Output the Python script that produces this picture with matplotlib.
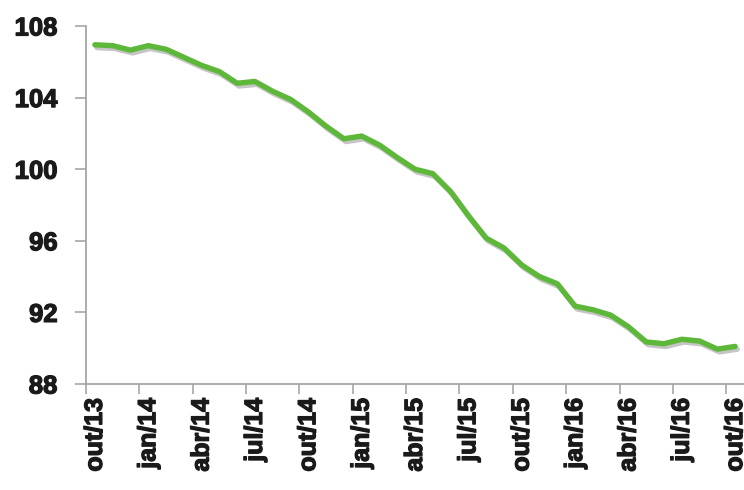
import numpy as np
import matplotlib
matplotlib.use('Agg')
import matplotlib.pyplot as plt
import matplotlib.patheffects as pe

plt.rcParams.update({
    'font.family': ['Liberation Sans', 'DejaVu Sans'],
    'font.weight': 'bold',
})

# ===================== DATA =====================
months = ['out/13', 'nov/13', 'dez/13', 'jan/14', 'fev/14', 'mar/14', 'abr/14',
          'mai/14', 'jun/14', 'jul/14', 'ago/14', 'set/14', 'out/14', 'nov/14',
          'dez/14', 'jan/15', 'fev/15', 'mar/15', 'abr/15', 'mai/15', 'jun/15',
          'jul/15', 'ago/15', 'set/15', 'out/15', 'nov/15', 'dez/15', 'jan/16',
          'fev/16', 'mar/16', 'abr/16', 'mai/16', 'jun/16', 'jul/16', 'ago/16',
          'set/16', 'out/16']
values = [106.95, 106.9, 106.65, 106.9, 106.7, 106.25, 105.8,
          105.45, 104.8, 104.9, 104.35, 103.9, 103.2, 102.4,
          101.7, 101.85, 101.35, 100.65, 100.0, 99.75, 98.75,
          97.4, 96.15, 95.6, 94.65, 94.0, 93.6, 92.35,
          92.15, 91.85, 91.2, 90.35, 90.25, 90.5, 90.4,
          89.95, 90.1]
y_ticks = [88, 92, 96, 100, 104, 108]

# ===================== FIGURE =====================
fig = plt.figure(figsize=(7.44, 4.9), dpi=100)
ax = fig.add_axes([0.1156, 0.2163, 0.8844, 0.7307])

x = np.arange(len(values))
ax.plot(x, values, color='#5DB83A', linewidth=3.9, solid_joinstyle='round',
        solid_capstyle='round',
        path_effects=[pe.SimpleLineShadow(offset=(1.5, -2), shadow_color='#707070',
                                          alpha=0.4),
                      pe.Normal()])

ax.set_xlim(-0.5, len(values) - 0.5)
ax.set_ylim(88, 108)
ax.set_yticks(y_ticks)

# category axis: ticks between categories, labels every 3 months
ax.set_xticks(np.arange(-0.5, len(values), 3))
ax.set_xticklabels([])
ax.set_xticks(x[::3], minor=True)
ax.set_xticklabels([months[i] for i in x[::3]], minor=True, rotation=90,
                   fontsize=18, fontweight='bold', color='#1a1a1a')
ax.tick_params(axis='x', which='major', length=7, width=1.2, color='#a6a6a6',
               direction='out')
ax.tick_params(axis='x', which='minor', length=0, pad=10)
ax.tick_params(axis='y', length=8, width=1.2, color='#a6a6a6', pad=12.5,
               labelsize=18.5, labelcolor='#1a1a1a')

heavy = [pe.withStroke(linewidth=0.9, foreground='#1a1a1a')]
for lab in ax.get_yticklabels() + ax.get_xticklabels(minor=True):
    lab.set_fontweight('bold')
    lab.set_path_effects(heavy)

for side in ['top', 'right']:
    ax.spines[side].set_visible(False)
for side in ['left', 'bottom']:
    ax.spines[side].set_color('#a6a6a6')
    ax.spines[side].set_linewidth(1.3)

fig.savefig('out.png', dpi=100)
plt.close(fig)
